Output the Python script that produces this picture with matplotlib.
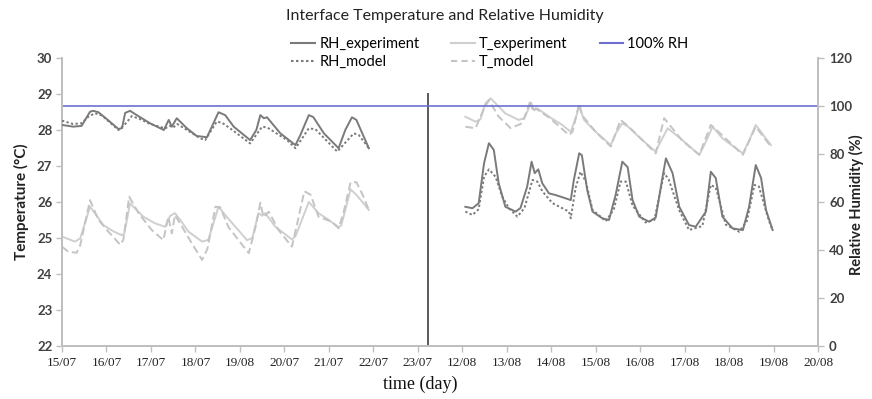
import matplotlib
matplotlib.use("Agg")
import matplotlib.pyplot as plt
from matplotlib.lines import Line2D

# ---------------- data ----------------
tick_labels = ["15/07", "16/07", "17/07", "18/07", "19/08", "20/07", "21/07", "22/07", "23/07",
               "12/08", "13/08", "14/08", "15/08", "16/08", "17/08", "18/08", "19/08", "20/08"]
seg2_offset = 9          # second campaign starts at tick "12/08"
divider_day = 8.22
divider_top = 29.03

# --- July campaign (days since 15/07) ---
jul_rh_exp_t = [0.00, 0.25, 0.44, 0.63, 0.70, 0.82, 1.01, 1.27, 1.35, 1.42, 1.53, 1.68, 1.98, 2.29,
                2.40, 2.47, 2.58, 2.81, 3.03, 3.26, 3.37, 3.52, 3.67, 3.86, 4.23, 4.37, 4.46, 4.54,
                4.61, 4.91, 5.25, 5.36, 5.55, 5.65, 5.89, 6.22, 6.37, 6.52, 6.62, 6.90]
jul_rh_exp = [92.1, 91.4, 91.7, 97.6, 98.0, 97.4, 94.5, 90.4, 90.8, 97.1, 98.0, 96.2, 92.8, 90.0,
              94.2, 91.4, 94.9, 90.7, 87.5, 87.0, 91.4, 97.4, 96.2, 91.4, 85.8, 90.0, 96.2, 94.9,
              95.3, 88.6, 83.7, 87.9, 96.2, 95.4, 88.6, 82.4, 90.0, 95.3, 94.2, 82.4]

jul_rh_mod_t = [0.00, 0.25, 0.44, 0.59, 0.74, 0.90, 1.27, 1.40, 1.57, 1.76, 1.98, 2.32, 2.43, 2.50,
                2.59, 2.81, 3.11, 3.22, 3.48, 3.60, 3.78, 4.23, 4.50, 4.62, 5.06, 5.25, 5.55, 5.70,
                6.19, 6.56, 6.67, 6.90]
jul_rh_mod = [93.9, 92.5, 92.8, 95.5, 97.0, 96.0, 90.0, 92.0, 95.8, 94.5, 92.5, 90.7, 91.7, 91.0,
              92.5, 90.0, 86.5, 85.8, 93.5, 93.0, 90.7, 84.4, 91.4, 91.0, 85.8, 82.4, 90.7, 90.3,
              81.0, 88.6, 88.0, 82.4]

jul_t_exp_t = [0.00, 0.29, 0.41, 0.63, 0.74, 0.93, 1.16, 1.34, 1.40, 1.53, 1.64, 1.83, 2.09, 2.32,
               2.43, 2.54, 2.66, 2.84, 3.15, 3.29, 3.52, 3.67, 3.90, 4.16, 4.28, 4.42, 4.50, 4.57,
               4.80, 5.17, 5.25, 5.55, 5.77, 6.00, 6.22, 6.28, 6.49, 6.62, 6.90]
jul_t_exp = [25.04, 24.90, 24.99, 25.87, 25.69, 25.36, 25.18, 25.08, 25.12, 25.96, 25.83, 25.59,
             25.41, 25.31, 25.61, 25.69, 25.50, 25.18, 24.90, 24.95, 25.87, 25.64, 25.31, 24.94,
             25.00, 25.69, 25.62, 25.69, 25.31, 24.96, 25.05, 26.00, 25.69, 25.50, 25.30, 25.35,
             26.35, 26.20, 25.78]

jul_t_mod_t = [0.00, 0.14, 0.33, 0.41, 0.63, 0.82, 1.04, 1.31, 1.38, 1.51, 1.72, 2.02, 2.28, 2.39,
               2.47, 2.54, 2.70, 2.92, 3.15, 3.27, 3.45, 3.56, 3.74, 3.97, 4.20, 4.35, 4.46, 4.53,
               4.65, 4.87, 5.17, 5.27, 5.45, 5.59, 5.77, 6.07, 6.22, 6.33, 6.49, 6.62, 6.76, 6.90]
jul_t_mod = [24.76, 24.62, 24.59, 24.80, 26.05, 25.50, 25.18, 24.81, 24.95, 26.15, 25.69, 25.22,
             24.94, 25.59, 25.13, 25.64, 25.31, 24.85, 24.39, 24.70, 25.87, 25.85, 25.31, 24.94,
             24.58, 25.30, 25.98, 25.59, 25.73, 25.22, 24.76, 25.30, 26.30, 26.20, 25.59, 25.45,
             25.27, 25.70, 26.55, 26.55, 26.20, 25.78]

# --- August campaign (days since 12/08) ---
aug_t_exp_t = [0.07, 0.30, 0.41, 0.52, 0.64, 0.75, 0.97, 1.27, 1.40, 1.54, 1.61, 1.69, 1.95, 2.25,
               2.44, 2.55, 2.63, 2.74, 3.00, 3.34, 3.45, 3.60, 3.72, 4.05, 4.35, 4.47, 4.62, 4.95,
               5.33, 5.45, 5.63, 5.85, 6.31, 6.45, 6.60, 6.94]
aug_t_exp = [28.37, 28.23, 28.30, 28.74, 28.88, 28.74, 28.46, 28.28, 28.33, 28.74, 28.56, 28.60,
             28.37, 28.14, 27.95, 28.33, 28.65, 28.28, 27.95, 27.58, 27.90, 28.19, 28.10, 27.72,
             27.40, 27.70, 28.05, 27.72, 27.31, 27.60, 28.09, 27.77, 27.35, 27.70, 28.14, 27.58]

aug_t_mod_t = [0.07, 0.30, 0.49, 0.60, 0.82, 1.09, 1.35, 1.54, 1.59, 1.65, 1.95, 2.40, 2.48, 2.63,
               2.70, 3.00, 3.34, 3.56, 3.74, 4.05, 4.35, 4.54, 4.95, 5.33, 5.59, 5.85, 6.31, 6.60,
               6.94]
aug_t_mod = [28.09, 28.05, 28.60, 28.83, 28.37, 28.05, 28.19, 28.83, 28.50, 28.60, 28.35, 27.86,
             27.95, 28.74, 28.40, 27.95, 27.54, 28.28, 28.10, 27.72, 27.35, 28.33, 27.70, 27.31,
             28.14, 27.85, 27.31, 28.09, 27.54]

aug_rh_exp_t = [0.07, 0.23, 0.37, 0.49, 0.60, 0.71, 0.82, 0.97, 1.20, 1.31, 1.46, 1.56, 1.63, 1.71,
                1.80, 1.95, 2.10, 2.33, 2.44, 2.51, 2.63, 2.69, 2.81, 2.93, 3.15, 3.30, 3.45, 3.60,
                3.72, 3.83, 3.98, 4.20, 4.35, 4.50, 4.58, 4.73, 4.88, 5.10, 5.25, 5.48, 5.59, 5.70,
                5.85, 6.08, 6.31, 6.45, 6.60, 6.72, 6.83, 6.98]
aug_rh_exp = [58.0, 57.4, 59.5, 76.1, 84.5, 81.7, 67.8, 58.0, 56.0, 57.5, 66.4, 76.8, 72.0, 73.6,
              67.8, 63.6, 62.9, 61.5, 60.8, 69.2, 80.3, 79.5, 65.0, 56.0, 53.2, 52.5, 63.0, 76.8,
              74.5, 60.8, 53.9, 51.8, 53.5, 70.0, 78.2, 72.0, 58.0, 50.4, 49.7, 56.0, 72.6, 70.0,
              53.9, 49.0, 48.3, 58.0, 75.4, 70.0, 56.7, 48.3]

aug_rh_mod_t = [0.07, 0.23, 0.37, 0.49, 0.60, 0.75, 0.90, 1.05, 1.24, 1.40, 1.58, 1.69, 1.80, 2.03,
                2.40, 2.44, 2.55, 2.66, 2.78, 2.93, 3.23, 3.41, 3.56, 3.68, 3.83, 4.12, 4.32, 4.54,
                4.64, 4.88, 5.10, 5.40, 5.59, 5.70, 5.93, 6.23, 6.40, 6.57, 6.67, 6.90, 6.98]
aug_rh_mod = [56.0, 54.6, 57.0, 70.5, 73.6, 70.5, 62.2, 57.4, 53.9, 57.5, 69.2, 68.5, 64.5, 59.5,
              56.0, 53.2, 66.0, 72.6, 68.5, 56.7, 52.0, 57.0, 68.5, 68.5, 58.5, 51.5, 52.5, 72.0,
              69.5, 56.5, 48.3, 50.0, 67.1, 66.0, 50.5, 47.6, 52.0, 67.1, 66.5, 52.0, 48.3]

rh_saturation = 100

# ---------------- styling ----------------
c_rh = "#7a7a7a"
c_t = "#cfcfcf"
c_t_mod = "#c4c4c4"
c_blue = "#6f6fd0"
c_axis = "#bfbfbf"
c_text = "#404040"
line_kw = dict(lw=1.4, solid_joinstyle="round", dash_joinstyle="round", zorder=3)

fig = plt.figure(figsize=(8.72, 3.99), dpi=100)
ax = fig.add_axes([62 / 872, 1 - 346 / 399, (818 - 62) / 872, (346 - 58) / 399])
ax2 = ax.twinx()

def shift(ts, off):
    return [t + off for t in ts]

# temperature on left axis
ax.plot(jul_t_exp_t, jul_t_exp, color=c_t, **line_kw)
ax.plot(jul_t_mod_t, jul_t_mod, color=c_t_mod, ls=(0, (4, 2)), **line_kw)
ax.plot(shift(aug_t_exp_t, seg2_offset), aug_t_exp, color=c_t, **line_kw)
ax.plot(shift(aug_t_mod_t, seg2_offset), aug_t_mod, color=c_t_mod, ls=(0, (4, 2)), **line_kw)
ax.vlines(divider_day, 22, divider_top, color="#595959", lw=1.4, zorder=4)

# relative humidity on right axis
ax2.plot(jul_rh_exp_t, jul_rh_exp, color=c_rh, **line_kw)
ax2.plot(jul_rh_mod_t, jul_rh_mod, color=c_rh, ls=(0, (1.2, 1.2)), **line_kw)
ax2.plot(shift(aug_rh_exp_t, seg2_offset), aug_rh_exp, color=c_rh, **line_kw)
ax2.plot(shift(aug_rh_mod_t, seg2_offset), aug_rh_mod, color=c_rh, ls=(0, (1.2, 1.2)), **line_kw)
ax2.axhline(rh_saturation, color=c_blue, lw=1.2, zorder=2)

ax.set_xlim(0, len(tick_labels) - 1)
ax.set_ylim(22, 30)
ax2.set_ylim(0, 120)
ax.set_xticks(range(len(tick_labels)))
ax.set_xticklabels(tick_labels, family="Liberation Serif", fontsize=9.5, color="#222222")
ax.set_yticks(range(22, 31))
ax2.set_yticks(range(0, 121, 20))

for a in (ax, ax2):
    for s in a.spines.values():
        s.set_color(c_axis)
        s.set_linewidth(1.4)
    a.spines["top"].set_visible(False)
    a.tick_params(direction="out", length=4, width=1, color=c_axis)
for lab in ax.get_yticklabels() + ax2.get_yticklabels():
    lab.set_family("Lato")
    lab.set_fontweight("bold")
    lab.set_fontsize(9.5)
    lab.set_color(c_text)
ax.tick_params(axis="y", pad=3)
ax2.tick_params(axis="y", pad=4)
ax.tick_params(axis="x", pad=4)

ax.set_ylabel("Temperature (°C)", family="Lato", fontweight="bold", fontsize=11, color="#222222",
              labelpad=6)
fig.text(856 / 872, 1 - 205 / 399, "Relative Humidity (%)", family="Lato", fontweight="bold",
         fontsize=10.5, color="#222222", rotation=90, ha="center", va="center")
fig.text(420 / 872, 1 - 384 / 399, "time (day)", family="Liberation Serif", fontsize=13,
         ha="center", va="center", color="#111111")
fig.text(445 / 872, 1 - 16 / 399, "Interface Temperature and Relative Humidity", family="Lato",
         fontsize=11.5, ha="center", va="center", color="#222222")

handles = [
    Line2D([], [], color=c_rh, lw=1.5),
    Line2D([], [], color=c_rh, lw=1.5, ls=(0, (1.2, 1.2))),
    Line2D([], [], color=c_t, lw=1.5),
    Line2D([], [], color=c_t_mod, lw=1.5, ls=(0, (3, 2))),
    Line2D([], [], color=c_blue, lw=1.5),
]
labels = ["RH_experiment", "RH_model", "T_experiment", "T_model", "100% RH"]
fig.legend(handles, labels, loc="center", bbox_to_anchor=(490 / 872, 1 - 53 / 399), ncol=3,
           frameon=False, prop={"family": "Lato", "size": 10.5}, handlelength=1.6,
           handletextpad=0.3, columnspacing=2.2, labelspacing=0.3, borderpad=0)

fig.savefig("out.png", dpi=100)
